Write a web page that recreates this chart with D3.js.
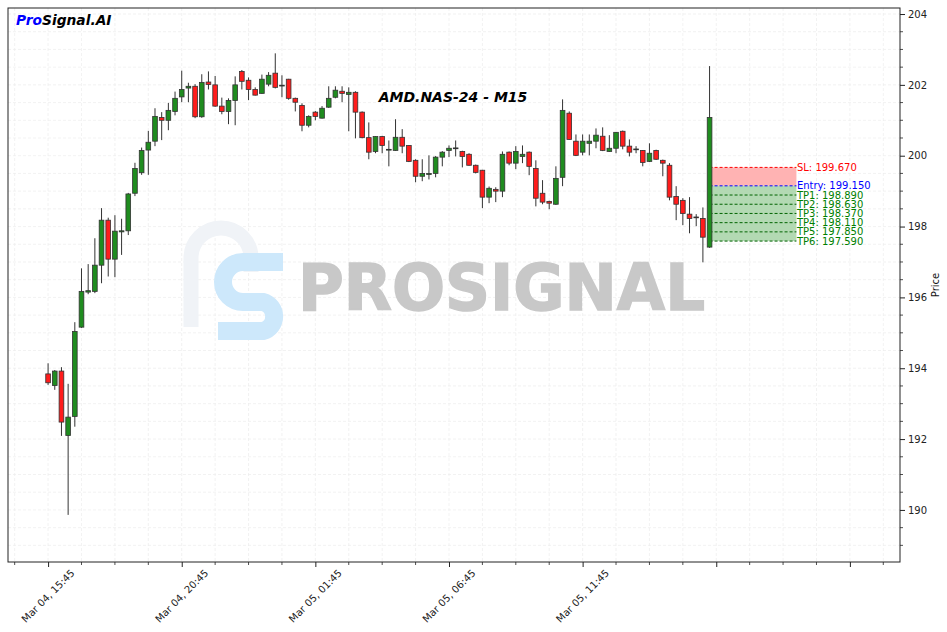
<!DOCTYPE html>
<html><head><meta charset="utf-8">
<script src="https://cdn.jsdelivr.net/npm/d3@7"></script>
<style>body{margin:0;background:#fff}svg{display:block}text{font-family:"DejaVu Sans",sans-serif}</style>
</head><body><svg id="c" width="947" height="632"></svg>
<script>
const opens = [193.84,193.51,193.92,192.10,192.64,195.16,196.15,196.17,196.91,198.18,
197.08,197.85,197.88,198.94,199.52,200.16,200.41,201.08,201.00,201.25,
201.66,201.91,201.96,201.10,202.08,202.00,201.40,201.25,201.56,202.38,
202.13,201.87,201.76,202.02,202.33,201.98,202.16,201.62,201.42,200.86,
201.23,201.06,201.37,201.65,201.82,201.73,201.79,201.23,200.51,200.12,
200.54,200.16,200.15,200.52,200.29,199.87,199.42,199.47,199.50,199.96,
200.15,200.20,200.12,200.04,199.73,199.59,198.83,199.05,199.00,200.10,
199.79,199.98,200.10,199.64,198.94,198.71,198.63,199.39,201.20,200.41,
200.10,200.35,200.41,200.55,200.12,200.21,200.69,200.27,200.17,200.15,
199.84,200.15,199.87,199.73,198.85,198.74,198.35,198.27,198.23,197.42];
const closes = [193.59,193.92,192.48,192.62,195.04,196.17,196.19,196.91,198.18,197.08,
197.87,197.88,198.92,199.64,200.15,200.38,201.11,201.00,201.28,201.62,
201.87,201.96,201.10,202.07,202.01,201.40,201.25,201.56,202.00,202.10,
201.87,201.71,202.16,202.27,201.93,201.99,201.62,201.51,200.86,201.11,
201.11,201.34,201.62,201.85,201.76,201.79,201.23,200.51,200.10,200.54,
200.29,200.18,200.52,200.27,199.84,199.42,199.50,199.50,199.96,200.10,
200.21,200.22,199.98,199.73,199.53,198.83,199.08,199.00,200.04,199.79,
200.12,200.04,199.70,198.80,198.69,198.66,199.36,201.28,200.46,200.01,
200.41,200.41,200.58,200.15,200.21,200.66,200.27,200.10,200.19,199.81,
200.07,199.90,199.79,198.83,198.63,198.37,198.23,198.25,197.70,201.08];
const highs = [194.14,193.95,194.03,193.56,195.30,196.82,196.94,197.67,198.52,198.25,
198.32,198.22,198.95,199.80,200.23,200.70,201.34,201.23,201.49,201.81,
202.40,202.06,202.02,202.30,202.38,202.25,201.64,201.62,202.24,202.42,
202.21,201.93,202.29,202.36,202.89,202.27,202.17,201.64,201.48,201.14,
201.26,201.40,201.96,201.96,201.96,201.93,201.82,201.25,200.94,200.55,
200.56,200.43,201.03,200.75,200.30,199.90,199.90,200.01,199.99,200.13,
200.29,200.43,200.14,200.07,199.75,199.60,199.13,199.11,200.12,200.12,
200.27,200.29,200.12,199.87,199.31,198.73,199.70,201.59,201.25,200.60,
200.60,200.60,200.77,200.80,200.58,200.67,200.71,200.46,200.27,200.16,
200.35,200.17,199.89,199.79,199.14,198.80,198.83,198.35,198.54,202.53];
const lows = [193.53,193.39,192.09,189.86,192.35,195.14,196.09,196.12,196.40,196.59,
196.57,197.20,197.76,198.86,199.46,199.46,200.27,200.44,200.72,201.14,
201.51,201.51,201.06,201.07,201.87,201.38,201.17,200.89,200.86,201.87,
201.57,201.70,201.75,201.96,201.90,201.65,201.58,201.25,200.69,200.80,
201.00,201.05,201.35,201.62,201.51,200.69,200.49,200.49,199.90,200.07,
200.07,199.70,200.14,200.07,199.82,199.25,199.28,199.33,199.39,199.70,
199.96,199.98,199.67,199.72,199.50,198.52,198.66,198.69,198.83,199.73,
199.62,199.79,199.45,198.57,198.63,198.49,198.61,199.14,200.45,199.99,
200.01,200.01,200.21,200.13,200.11,200.07,200.18,199.98,200.07,199.70,
199.82,199.88,199.42,198.74,198.18,198.04,197.81,198.01,196.99,197.40];
const tickLabels = ["Mar 04, 15:45","Mar 04, 20:45","Mar 05, 01:45","Mar 05, 06:45","Mar 05, 11:45"];
const levelNames = ["SL","Entry","TP1","TP2","TP3","TP4","TP5","TP6"];
const levelValues = [199.670,199.150,198.890,198.630,198.370,198.110,197.850,197.590];
const titleText = "AMD.NAS-24 - M15";

const svg = d3.select("#c");
const L=8,R=900,T=8,B=562;
const x = d3.scaleLinear().domain([-6,127.5]).range([L,R]);
const y = d3.scaleLinear().domain([188.53,204.17]).range([B,T]);
const n = opens.length;
const band = x(1)-x(0), bw = band*0.7;

// grid
const g = svg.append("g");
const xGrid = d3.range(-5,126,5), yGrid = d3.range(189,204.01,0.5);
g.selectAll("line.vg").data(xGrid).join("line").attr("x1",d=>x(d)).attr("x2",d=>x(d)).attr("y1",T).attr("y2",B)
 .attr("stroke","#ececec").attr("stroke-width",0.7).attr("stroke-dasharray","3,2");
g.selectAll("line.hg").data(yGrid).join("line").attr("y1",d=>y(d)).attr("y2",d=>y(d)).attr("x1",L).attr("x2",R)
 .attr("stroke","#ececec").attr("stroke-width",0.7).attr("stroke-dasharray","3,2");

// watermark
const wm = svg.append("g");
wm.append("path").attr("d","M191 327 L191 258 A30 30 0 0 1 251 258 L251 272")
 .attr("fill","none").attr("stroke","#f0f3f7").attr("stroke-width",15);
wm.append("path").attr("d","M283 262 L243 262 A20 20 0 0 0 243 302 L263 302 A15 15 0 0 1 263 331 L218 331")
 .attr("fill","none").attr("stroke","#cde8fb").attr("stroke-width",18);
wm.append("text").attr("x",298).attr("y",310).attr("font-size",64).attr("font-weight","bold")
 .attr("fill","#c8c8c8").attr("stroke","#c8c8c8").attr("stroke-width",1.5)
 .attr("textLength",407).attr("lengthAdjust","spacingAndGlyphs").text("PROSIGNAL");

// zones
const z0 = x(n-1), z1 = x(112);
svg.append("rect").attr("x",z0).attr("width",z1-z0).attr("y",y(levelValues[0])).attr("height",y(levelValues[1])-y(levelValues[0]))
 .attr("fill","#ffb3b3");
svg.append("rect").attr("x",z0).attr("width",z1-z0).attr("y",y(levelValues[1])).attr("height",y(levelValues[7])-y(levelValues[1]))
 .attr("fill","#b3d9b3");
svg.append("line").attr("x1",z0+1).attr("x2",z0+1).attr("y1",y(levelValues[0])).attr("y2",y(levelValues[1])).attr("stroke","#ff4040").attr("stroke-width",1);
const lvlColor = (i)=> i===0?"#ff0000":(i===1?"#0000ff":"#008000");
const lineColor = (i)=> i===0?"#ff0000":(i===1?"#0000ff":"#006400");
svg.selectAll("line.lvl").data(levelValues).join("line").attr("x1",z0).attr("x2",z1)
 .attr("y1",d=>y(d)).attr("y2",d=>y(d)).attr("stroke",(d,i)=>lineColor(i)).attr("stroke-width",1).attr("stroke-dasharray","3,2");
svg.selectAll("text.lvl").data(levelValues).join("text").attr("x",z1+0.5).attr("y",d=>y(d))
 .attr("dominant-baseline","central").attr("font-size",10).attr("fill",(d,i)=>lvlColor(i))
 .text((d,i)=>levelNames[i]+": "+d.toFixed(3));

// candles
const cg = svg.append("g");
const idx = d3.range(n);
cg.selectAll("line.w").data(idx).join("line").attr("x1",i=>x(i)).attr("x2",i=>x(i))
 .attr("y1",i=>y(highs[i])).attr("y2",i=>y(lows[i])).attr("stroke","#333").attr("stroke-width",1);
cg.selectAll("rect.b").data(idx).join("rect").attr("x",i=>x(i)-bw/2).attr("width",bw)
 .attr("y",i=>y(Math.max(opens[i],closes[i])))
 .attr("height",i=>Math.max(0.8,Math.abs(y(opens[i])-y(closes[i]))))
 .attr("fill",i=>closes[i]>=opens[i]?"#1f8c1f":"#ff1c1c").attr("stroke","#333").attr("stroke-width",0.8);

// title
svg.append("text").attr("x",453).attr("y",102).attr("text-anchor","middle").attr("font-size",14)
 .attr("font-weight","bold").attr("font-style","italic").attr("fill","#000").text(titleText);
const brand = svg.append("text").attr("x",16).attr("y",24.5).attr("font-size",13.8).attr("font-weight","bold").attr("font-style","italic");
brand.append("tspan").attr("fill","#0000ff").text("Pro");
brand.append("tspan").attr("fill","#000").text("Signal.AI");

// frame
svg.append("rect").attr("x",L).attr("y",T).attr("width",R-L).attr("height",B-T).attr("fill","none").attr("stroke","#222").attr("stroke-width",1);

// y axis right
const yAxis = d3.axisRight(y).tickValues(d3.range(190,204.1,2)).tickSize(5).tickPadding(3).tickFormat(d3.format("d"));
const ya = svg.append("g").attr("transform",`translate(${R},0)`).call(yAxis);
ya.select(".domain").remove();
ya.selectAll("text").attr("font-size",10).attr("fill","#222").attr("font-family","DejaVu Sans");
ya.selectAll("line").attr("stroke","#222");
svg.append("g").selectAll("line").data(d3.range(189,204.1,0.5).filter(v=>v%2!==0)).join("line")
 .attr("x1",R).attr("x2",R+3).attr("y1",d=>y(d)).attr("y2",d=>y(d)).attr("stroke","#222").attr("stroke-width",0.8);
svg.append("text").attr("transform",`translate(939,${(T+B)/2}) rotate(-90)`).attr("text-anchor","middle")
 .attr("font-size",10).attr("fill","#111").text("Price");

// x axis
const majors = d3.range(0,121,20);
const minors = d3.range(-5,126,5).filter(v=>v%20!==0);
const xAxis = d3.axisBottom(x).tickValues(majors).tickSize(5).tickFormat("");
const xa = svg.append("g").attr("transform",`translate(0,${B})`).call(xAxis);
xa.select(".domain").remove();
xa.selectAll("line").attr("stroke","#222");
svg.append("g").selectAll("line").data(minors).join("line").attr("x1",d=>x(d)).attr("x2",d=>x(d))
 .attr("y1",B).attr("y2",B+3).attr("stroke","#222").attr("stroke-width",0.8);
svg.append("g").selectAll("text").data(tickLabels).join("text")
 .attr("transform",(d,i)=>`translate(${x(i*20)},${B+34}) rotate(-45)`)
 .attr("text-anchor","middle").attr("dominant-baseline","central").attr("font-size",10).attr("fill","#222").text(d=>d);
</script></body></html>
